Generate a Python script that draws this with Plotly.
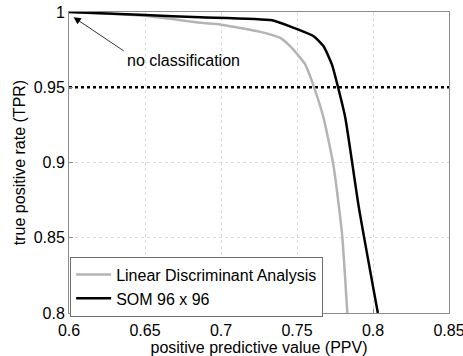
import plotly.graph_objects as go

# Precision/recall trade-off curves
ppv_lda = [0.6, 0.65, 0.6864, 0.6995, 0.7259, 0.739, 0.7456, 0.7522, 0.7555,
           0.761, 0.7675, 0.7741, 0.7796, 0.7831]
tpr_lda = [1.0, 0.9975, 0.9928, 0.9917, 0.9868, 0.9828, 0.9772, 0.9695, 0.965,
           0.9506, 0.9296, 0.8974, 0.853, 0.8]

ppv_som = [0.6, 0.65, 0.6864, 0.7336, 0.7478, 0.761, 0.7675, 0.773, 0.777,
           0.7818, 0.7906, 0.8032]
tpr_som = [1.0, 0.998, 0.9965, 0.9945, 0.9895, 0.9839, 0.9772, 0.965, 0.95,
           0.9296, 0.8707, 0.8]

target_tpr = 0.95
x_ticks = [0.6, 0.65, 0.7, 0.75, 0.8, 0.85]
y_ticks = [0.8, 0.85, 0.9, 0.95, 1.0]

FONT = "Liberation Sans, Arial, sans-serif"
FS = 16

fig = go.Figure()

fig.add_trace(go.Scatter(
    x=[0.6, 0.85], y=[target_tpr, target_tpr], mode="lines",
    line=dict(color="black", width=2.5, dash="dot"),
    showlegend=False, hoverinfo="skip"))

fig.add_trace(go.Scatter(
    x=ppv_lda, y=tpr_lda, mode="lines", name="Linear Discriminant Analysis",
    line=dict(color="#b4b4b4", width=2.5, shape="spline", smoothing=0.5)))

fig.add_trace(go.Scatter(
    x=ppv_som, y=tpr_som, mode="lines", name="SOM 96 x 96",
    line=dict(color="black", width=2.5, shape="spline", smoothing=0.5)))

fig.add_annotation(
    x=0.603, y=0.9965, xref="x", yref="y",
    ax=0.637, ay=0.9735, axref="x", ayref="y",
    showarrow=True, arrowhead=2, arrowsize=1.8, arrowwidth=0.8,
    arrowcolor="black", text="", standoff=0)

fig.add_annotation(
    x=0.637, y=0.968, xref="x", yref="y", text="no classification",
    showarrow=False, xanchor="left", yanchor="middle",
    font=dict(family=FONT, size=FS, color="black"))

axis_common = dict(
    showline=True, linecolor="#8c8c8c", linewidth=1, mirror=True,
    ticks="inside", ticklen=4, tickcolor="#8c8c8c",
    showgrid=True, gridcolor="#dcdcdc", griddash="dot", gridwidth=1,
    zeroline=False, tickfont=dict(family=FONT, size=FS, color="black"),
    ticklabeloverflow="allow",
)

fig.update_xaxes(
    range=[0.6, 0.85], tickvals=x_ticks,
    ticktext=[f"{v:g}" for v in x_ticks],
    ticklabelstandoff=3,
    title=dict(text="positive predictive value (PPV)", standoff=0,
               font=dict(family=FONT, size=FS, color="black")),
    **axis_common)

fig.update_yaxes(
    range=[0.8, 1.0], tickvals=y_ticks,
    ticktext=[f"{v:g}" for v in y_ticks],
    title=dict(text="true positive rate (TPR)", standoff=4,
               font=dict(family=FONT, size=FS, color="black")),
    **axis_common)

fig.update_layout(
    width=463, height=356,
    margin=dict(l=69, r=14, t=12, b=43, autoexpand=False),
    plot_bgcolor="white", paper_bgcolor="white",
    font=dict(family=FONT, size=FS, color="black"),
    legend=dict(x=0.003, y=-0.012, xanchor="left", yanchor="bottom",
                bgcolor="white", bordercolor="#6e6e6e", borderwidth=1,
                font=dict(family=FONT, size=FS, color="black"),
                itemwidth=35, tracegroupgap=0),
)

fig.write_html("out.html")
